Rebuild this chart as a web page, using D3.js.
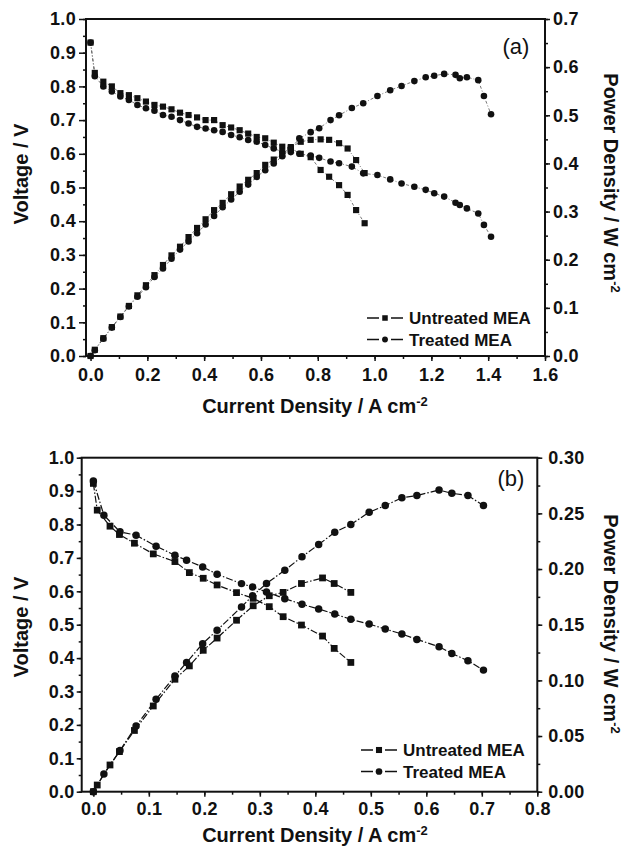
<!DOCTYPE html>
<html>
<head>
<meta charset="utf-8">
<script src="https://cdn.jsdelivr.net/npm/d3@7"></script>
<style>
  body { margin: 0; background: #fff; }
  text { font-family: "Liberation Sans", Arial, sans-serif; fill: #111; }
</style>
</head>
<body>
<script>
// ---- panel (a) data ----
var aCurUntreated = [0, 0.015, 0.045, 0.075, 0.105, 0.135, 0.165, 0.195, 0.225, 0.255, 0.285, 0.315, 0.345, 0.375, 0.405, 0.435, 0.465, 0.495, 0.525, 0.555, 0.585, 0.615, 0.645, 0.675, 0.705, 0.74, 0.775, 0.81, 0.84, 0.875, 0.905, 0.935, 0.965];
var aVoltUntreated = [0.93, 0.84, 0.814, 0.80, 0.78, 0.774, 0.765, 0.755, 0.745, 0.74, 0.732, 0.722, 0.715, 0.708, 0.70, 0.70, 0.685, 0.678, 0.67, 0.66, 0.65, 0.646, 0.633, 0.621, 0.616, 0.60, 0.59, 0.552, 0.532, 0.507, 0.478, 0.433, 0.394];
var aPowUntreated = [0, 0.013, 0.037, 0.06, 0.082, 0.104, 0.126, 0.147, 0.168, 0.189, 0.209, 0.227, 0.247, 0.266, 0.284, 0.303, 0.318, 0.336, 0.352, 0.366, 0.38, 0.397, 0.408, 0.419, 0.434, 0.445, 0.449, 0.45, 0.449, 0.442, 0.431, 0.407, 0.38];

var aCurTreated = [0, 0.015, 0.045, 0.075, 0.105, 0.135, 0.165, 0.195, 0.225, 0.255, 0.285, 0.315, 0.345, 0.375, 0.405, 0.435, 0.465, 0.495, 0.525, 0.555, 0.585, 0.615, 0.645, 0.675, 0.705, 0.735, 0.775, 0.805, 0.845, 0.875, 0.92, 0.96, 1.01, 1.055, 1.095, 1.14, 1.18, 1.21, 1.245, 1.285, 1.30, 1.325, 1.365, 1.385, 1.41];
var aVoltTreated = [0.93, 0.83, 0.80, 0.785, 0.77, 0.76, 0.745, 0.735, 0.728, 0.715, 0.71, 0.70, 0.69, 0.68, 0.675, 0.67, 0.665, 0.656, 0.649, 0.641, 0.636, 0.626, 0.616, 0.606, 0.605, 0.60, 0.595, 0.588, 0.577, 0.572, 0.562, 0.542, 0.537, 0.524, 0.512, 0.502, 0.493, 0.483, 0.473, 0.455, 0.448, 0.438, 0.423, 0.389, 0.354];
var aPowTreated = [0, 0.012, 0.036, 0.059, 0.081, 0.103, 0.123, 0.143, 0.164, 0.182, 0.202, 0.221, 0.238, 0.255, 0.273, 0.291, 0.309, 0.325, 0.341, 0.356, 0.372, 0.386, 0.40, 0.415, 0.43, 0.452, 0.465, 0.473, 0.49, 0.50, 0.515, 0.525, 0.54, 0.552, 0.561, 0.571, 0.579, 0.582, 0.586, 0.584, 0.577, 0.579, 0.573, 0.54, 0.502];

// ---- panel (b) data ----
var bCurUntreated = [0, 0.007, 0.03, 0.047, 0.074, 0.108, 0.147, 0.173, 0.198, 0.223, 0.258, 0.288, 0.317, 0.342, 0.375, 0.413, 0.434, 0.464];
var bVoltUntreated = [0.923, 0.843, 0.795, 0.77, 0.744, 0.712, 0.689, 0.656, 0.639, 0.619, 0.596, 0.579, 0.554, 0.524, 0.499, 0.466, 0.429, 0.387];
var bPowUntreated = [0, 0.006, 0.024, 0.036, 0.055, 0.077, 0.101, 0.113, 0.127, 0.138, 0.154, 0.167, 0.176, 0.179, 0.187, 0.192, 0.187, 0.179];

var bCurTreated = [0, 0.019, 0.048, 0.077, 0.113, 0.147, 0.168, 0.197, 0.223, 0.267, 0.287, 0.312, 0.345, 0.376, 0.406, 0.435, 0.464, 0.497, 0.526, 0.556, 0.583, 0.623, 0.646, 0.675, 0.703];
var bVoltTreated = [0.93, 0.828, 0.778, 0.768, 0.735, 0.708, 0.693, 0.673, 0.651, 0.623, 0.613, 0.598, 0.578, 0.561, 0.547, 0.532, 0.516, 0.502, 0.487, 0.472, 0.456, 0.434, 0.414, 0.392, 0.364];
var bPowTreated = [0, 0.016, 0.037, 0.059, 0.083, 0.104, 0.116, 0.133, 0.145, 0.166, 0.176, 0.187, 0.199, 0.211, 0.222, 0.233, 0.240, 0.251, 0.257, 0.264, 0.266, 0.271, 0.268, 0.266, 0.257];

// ---- ticks / labels ----
var voltTicks = [0, 0.1, 0.2, 0.3, 0.4, 0.5, 0.6, 0.7, 0.8, 0.9, 1.0];
var aCurTicks = [0, 0.2, 0.4, 0.6, 0.8, 1.0, 1.2, 1.4, 1.6];
var aPowTicks = [0, 0.1, 0.2, 0.3, 0.4, 0.5, 0.6, 0.7];
var bCurTicks = [0, 0.1, 0.2, 0.3, 0.4, 0.5, 0.6, 0.7, 0.8];
var bPowTicks = [0, 0.05, 0.10, 0.15, 0.20, 0.25, 0.30];
var seriesNames = ['Untreated MEA', 'Treated MEA'];

var svg = d3.select('body').append('svg')
  .attr('width', 624)
  .attr('height', 847);

var fontSize = 18;

function range(a, b, step) {
  var out = [];
  for (var v = a; v <= b + 1e-9; v += step) out.push(+v.toFixed(4));
  return out;
}

drawPanel({
  left: 86, right: 545, top: 19, bottom: 356,
  xDomain: [-0.016, 1.6], powMax: 0.7,
  xTicks: aCurTicks, xMinor: range(0, 1.6, 0.1),
  powTicks: aPowTicks, powMinor: range(0, 0.7, 0.05), powFmt: d3.format('.1f'),
  yTick: 7, yPad: 3, rTick: 5, rPad: 3, xPad: 7,
  untreated: [aCurUntreated, aVoltUntreated, aPowUntreated],
  treated: [aCurTreated, aVoltTreated, aPowTreated],
  sq: 38, circ: 34, lineW: 0.8, dash: '3,2,1,2', lineCol: '#555',
  tag: '(a)', tagX: 516, tagY: 54,
  voltTitleY: 174, powTitleY: 183, xTitleY: 413,
  legX: 367, legY: 318
});

drawPanel({
  left: 81.7, right: 537.3, top: 457.7, bottom: 791.7,
  xDomain: [-0.021, 0.8], powMax: 0.3,
  xTicks: bCurTicks, xMinor: range(0, 0.8, 0.05),
  powTicks: bPowTicks, powMinor: range(0, 0.3, 0.025), powFmt: d3.format('.2f'),
  yTick: 5, yPad: 2, rTick: 5, rPad: 6, xPad: 6,
  untreated: [bCurUntreated, bVoltUntreated, bPowUntreated],
  treated: [bCurTreated, bVoltTreated, bPowTreated],
  sq: 46, circ: 44, lineW: 1.2, dash: '7,2,1.5,2', lineCol: '#111',
  tag: '(b)', tagX: 511, tagY: 486,
  voltTitleY: 627, powTitleY: 624, xTitleY: 842,
  legX: 361, legY: 750
});

function drawPanel(p) {
  var x = d3.scaleLinear().domain(p.xDomain).range([p.left, p.right]);
  var yV = d3.scaleLinear().domain([0, 1]).range([p.bottom, p.top]);
  var yP = d3.scaleLinear().domain([0, p.powMax]).range([p.bottom, p.top]);

  var g = svg.append('g');

  // minor ticks
  g.append('g').attr('transform', 'translate(0,' + p.bottom + ')')
    .call(d3.axisBottom(x).tickValues(p.xMinor).tickSize(3).tickFormat(''));
  g.append('g').attr('transform', 'translate(' + p.left + ',0)')
    .call(d3.axisLeft(yV).tickValues(range(0, 1, 0.05)).tickSize(3).tickFormat(''));
  g.append('g').attr('transform', 'translate(' + p.right + ',0)')
    .call(d3.axisRight(yP).tickValues(p.powMinor).tickSize(3).tickFormat(''));

  // major ticks
  g.append('g').attr('transform', 'translate(0,' + p.bottom + ')')
    .call(d3.axisBottom(x).tickValues(p.xTicks).tickSize(5).tickPadding(p.xPad).tickFormat(d3.format('.1f')));
  g.append('g').attr('transform', 'translate(' + p.left + ',0)')
    .call(d3.axisLeft(yV).tickValues(voltTicks).tickSize(p.yTick).tickPadding(p.yPad).tickFormat(d3.format('.1f')));
  g.append('g').attr('transform', 'translate(' + p.right + ',0)')
    .call(d3.axisRight(yP).tickValues(p.powTicks).tickSize(p.rTick).tickPadding(p.rPad).tickFormat(p.powFmt));

  g.selectAll('.domain').remove();
  g.selectAll('.tick line').attr('stroke', '#111').attr('stroke-width', 1.5);
  g.selectAll('.tick text')
    .style('font-size', fontSize + 'px')
    .style('font-weight', 'bold')
    .style('letter-spacing', '0.3px')
    .attr('fill', '#111');

  // frame
  g.append('rect')
    .attr('x', p.left).attr('y', p.top)
    .attr('width', p.right - p.left).attr('height', p.bottom - p.top)
    .attr('fill', 'none').attr('stroke', '#111').attr('stroke-width', 2);

  // series
  var series = [
    { name: seriesNames[0], cur: p.untreated[0], v: p.untreated[1], pw: p.untreated[2], type: d3.symbolSquare, size: p.sq },
    { name: seriesNames[1], cur: p.treated[0], v: p.treated[1], pw: p.treated[2], type: d3.symbolCircle, size: p.circ }
  ];

  var lineV = d3.line().x(d => x(d[0])).y(d => yV(d[1]));
  var lineP = d3.line().x(d => x(d[0])).y(d => yP(d[1]));

  series.forEach(function(s) {
    var vPts = s.cur.map((c, i) => [c, s.v[i]]);
    var pPts = s.cur.map((c, i) => [c, s.pw[i]]);
    g.append('path').attr('d', lineV(vPts))
      .attr('fill', 'none').attr('stroke', p.lineCol).attr('stroke-width', p.lineW)
      .attr('stroke-dasharray', p.dash);
    g.append('path').attr('d', lineP(pPts))
      .attr('fill', 'none').attr('stroke', p.lineCol).attr('stroke-width', p.lineW)
      .attr('stroke-dasharray', p.dash);
  });

  series.forEach(function(s) {
    var sym = d3.symbol().type(s.type).size(s.size);
    var vPts = s.cur.map((c, i) => [c, s.v[i]]);
    var pPts = s.cur.map((c, i) => [c, s.pw[i]]);
    g.selectAll(null).data(vPts).enter().append('path')
      .attr('d', sym)
      .attr('transform', d => 'translate(' + x(d[0]) + ',' + yV(d[1]) + ')')
      .attr('fill', '#111');
    g.selectAll(null).data(pPts).enter().append('path')
      .attr('d', sym)
      .attr('transform', d => 'translate(' + x(d[0]) + ',' + yP(d[1]) + ')')
      .attr('fill', '#111');
  });

  // panel tag
  g.append('text')
    .attr('x', p.tagX).attr('y', p.tagY)
    .style('text-anchor', 'middle')
    .style('font-size', '22px')
    .text(p.tag);

  // axis titles
  g.append('text')
    .attr('transform', 'translate(28,' + p.voltTitleY + ') rotate(-90)')
    .style('text-anchor', 'middle')
    .style('font-size', '20px').style('font-weight', 'bold')
    .text('Voltage / V');

  var pt = g.append('text')
    .attr('transform', 'translate(604,' + p.powTitleY + ') rotate(90)')
    .style('text-anchor', 'middle')
    .style('font-size', '20px').style('font-weight', 'bold');
  pt.append('tspan').text('Power Density / W cm');
  pt.append('tspan').attr('dy', -7).style('font-size', '13px').text('-2');

  var xt = g.append('text')
    .attr('x', 315).attr('y', p.xTitleY)
    .style('text-anchor', 'middle')
    .style('font-size', '20px').style('font-weight', 'bold');
  xt.append('tspan').text('Current Density / A cm');
  xt.append('tspan').attr('dy', -7).style('font-size', '13px').text('-2');

  // legend
  series.forEach(function(s, i) {
    var ly = p.legY + i * 21.5;
    var lg = g.append('g').attr('transform', 'translate(' + p.legX + ',' + ly + ')');
    lg.append('line')
      .attr('x1', 0).attr('x2', 36).attr('y1', 0).attr('y2', 0)
      .attr('stroke', '#111').attr('stroke-width', 1.5)
      .attr('stroke-dasharray', '12,12');
    lg.append('path')
      .attr('d', d3.symbol().type(s.type).size(s.size * 0.8))
      .attr('transform', 'translate(18,0)')
      .attr('fill', '#111');
    lg.append('text')
      .attr('x', 42).attr('y', 0).attr('dy', '0.36em')
      .style('font-size', '17px').style('font-weight', 'bold')
      .text(s.name);
  });
}
</script>
</body>
</html>
